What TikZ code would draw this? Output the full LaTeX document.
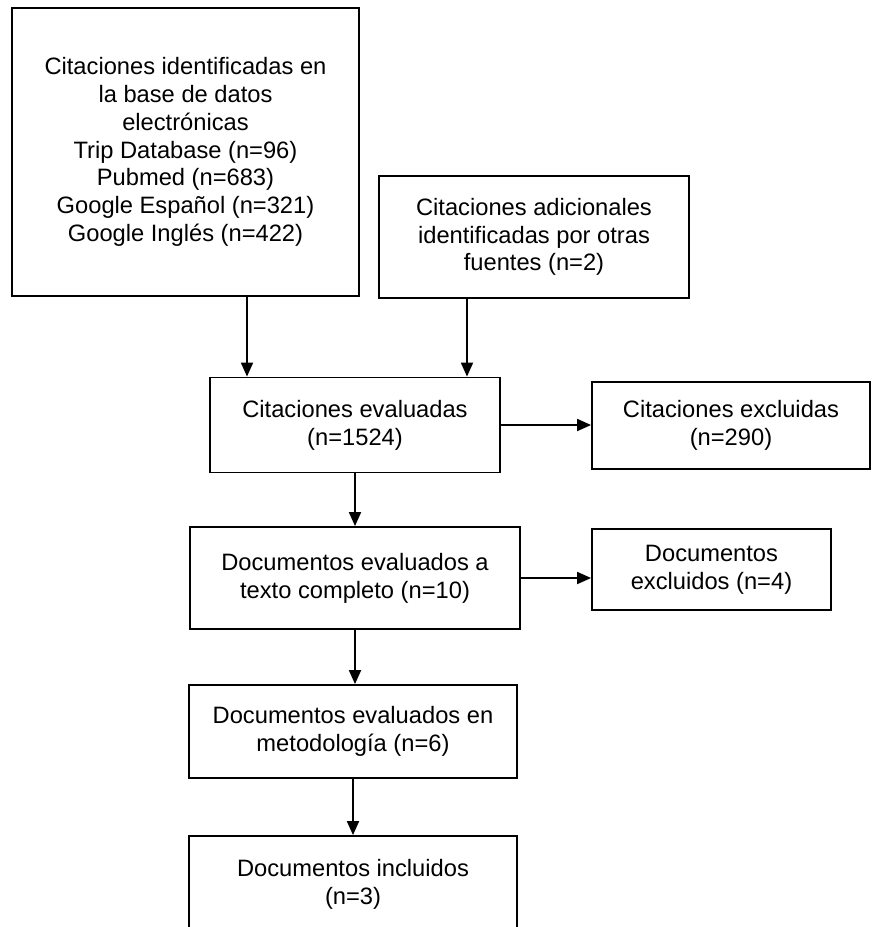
\documentclass[tikz,border=0pt]{standalone}
\usepackage{fontspec}
\setmainfont{Liberation Sans}
\usetikzlibrary{arrows.meta}
\begin{document}
\begin{tikzpicture}[x=1pt,y=-1pt,
  box/.style={draw=black, line width=1.8pt, align=center, inner sep=0pt,
    font=\fontsize{23.7}{27.8}\selectfont, text=black},
  arr/.style={draw=black, line width=1.8pt, -{Triangle[length=14pt,width=12pt]}}]
\useasboundingbox (0,0) rectangle (872,927);
\clip (0,0) rectangle (872,927);
\fill[white] (0,0) rectangle (872,927);
\node[box, minimum width=347, minimum height=288] (b1) at (185.5,152)
  {Citaciones identificadas en\\la base de datos\\electrónicas\\Trip Database (n=96)\\Pubmed (n=683)\\Google Español (n=321)\\Google Inglés (n=422)};
\node[box, minimum width=310, minimum height=122] (b2) at (534,237)
  {Citaciones adicionales\\identificadas por otras\\fuentes (n=2)};
\node[box, minimum width=290, minimum height=95] (b3) at (355,425)
  {Citaciones evaluadas\\(n=1524)};
\node[box, minimum width=278, minimum height=87] (b4) at (731,425.5)
  {Citaciones excluidas\\(n=290)};
\node[box, minimum width=330, minimum height=102] (b5) at (355,578)
  {Documentos evaluados a\\texto completo (n=10)};
\node[box, minimum width=239, minimum height=81] (b6) at (711.5,569.5)
  {Documentos\\excluidos (n=4)};
\node[box, minimum width=328, minimum height=93] (b7) at (353,731.5)
  {Documentos evaluados en\\metodología (n=6)};
\node[box, minimum width=328, minimum height=96] (b8) at (353,884)
  {Documentos incluidos\\(n=3)};
\draw[arr] ([xshift=61.5]b1.south) -- ([xshift=61.5]b1.south |- b3.north);
\draw[arr] ([xshift=-67]b2.south) -- ([xshift=-67]b2.south |- b3.north);
\draw[arr] (b3.east) -- (b3.east -| b4.west);
\draw[arr] (b3.south) -- (b5.north);
\draw[arr] (b5.east) -- (b5.east -| b6.west);
\draw[arr] (b5.south) -- (b5.south |- b7.north);
\draw[arr] (b7.south) -- (b8.north);
\end{tikzpicture}
\end{document}
